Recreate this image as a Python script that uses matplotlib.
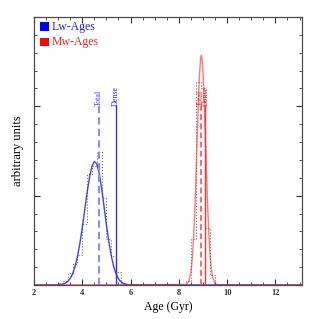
import numpy as np
import matplotlib
matplotlib.use("Agg")
import matplotlib.pyplot as plt
from matplotlib.patches import Rectangle
from matplotlib.ticker import MultipleLocator

plt.rcParams["font.family"] = ["Liberation Serif", "DejaVu Serif"]

# Light-weighted age distribution (blue)
lw_age = [2.0, 2.9, 3.0, 3.1, 3.2, 3.3, 3.4, 3.5, 3.6, 3.7, 3.8, 3.9, 4.0, 4.1, 4.2,
          4.3, 4.4, 4.5, 4.6, 4.7, 4.8, 4.9, 5.0, 5.1, 5.2, 5.3, 5.4, 5.5, 5.6,
          5.7, 5.8, 5.9, 6.0, 13.1]
lw_val = [0.0, 0.001, 0.002, 0.005, 0.010, 0.020, 0.040, 0.073, 0.126, 0.206, 0.319,
          0.466, 0.644, 0.840, 1.036, 1.208, 1.329, 1.383, 1.357, 1.252, 1.084,
          0.882, 0.674, 0.484, 0.327, 0.207, 0.123, 0.069, 0.036, 0.018, 0.008,
          0.004, 0.0015, 0.0]

# Mass-weighted age distribution (red)
mw_age = [2.0, 8.3, 8.4, 8.5, 8.55, 8.6, 8.65, 8.7, 8.75, 8.8, 8.85, 8.9, 8.93,
          8.95, 9.0, 9.05, 9.1, 9.15, 9.2, 9.25, 9.3, 9.35, 9.4, 9.5, 9.6, 13.1]
mw_val = [0.0, 0.006, 0.034, 0.148, 0.277, 0.479, 0.766, 1.136, 1.559, 1.980,
          2.328, 2.534, 2.57, 2.554, 2.383, 2.058, 1.646, 1.218, 0.834, 0.529,
          0.311, 0.169, 0.085, 0.017, 0.0025, 0.0]

# Histograms (dotted)
lw_edges = [3.0, 3.2, 3.4, 3.6, 3.8, 4.0, 4.2, 4.4, 4.6, 4.8, 5.0, 5.2, 5.4, 5.6, 5.8]
lw_hist = [0.02, 0.05, 0.13, 0.24, 0.34, 0.68, 1.24, 1.33, 1.49, 0.97, 0.52, 0.32, 0.15, 0.02]
mw_edges = [8.3, 8.5, 8.7, 8.9, 9.1, 9.3, 9.5]
mw_hist = [0.05, 0.52, 2.27, 2.2, 0.64, 0.11]

# Marker lines
lw_total, lw_dense = 4.69, 5.40
mw_total, mw_dense = 8.90, 9.10
marker_top = 2.0

fig = plt.figure(figsize=(3.19, 3.19), dpi=100)
ax = fig.add_axes([0.1066, 0.1066, 0.84, 0.84])

ax.stairs(lw_hist, lw_edges, color="0.45", lw=0.8, ls=":")
ax.stairs(mw_hist, mw_edges, color="0.45", lw=0.8, ls=":")

ax.plot(lw_age, lw_val, color="#2020ff", lw=1.0, alpha=0.85)
ax.plot(mw_age, mw_val, color="#ff2020", lw=1.0, alpha=0.6)

# Total / Dense markers
ax.plot([lw_total, lw_total], [0, marker_top], color="#8c8cff", lw=1.5, ls=(0, (3.5, 2)))
ax.plot([lw_dense, lw_dense], [0, marker_top], color="#3030ff", lw=1.0)
ax.plot([mw_total, mw_total], [0, marker_top], color="#ff5050", lw=1.2, ls=(0, (3.5, 2)))
ax.plot([mw_dense, mw_dense], [0, marker_top], color="#ff3030", lw=1.0)
for x, lab, c in [(lw_total, "Total", "#4040ff"), (lw_dense, "Dense", "#2020ff"),
                  (mw_total, "Total", "#ff2020"), (mw_dense, "Dense", "#ff2020")]:
    ax.text(x, marker_top, lab, rotation=90, ha="center", va="bottom",
            fontsize=5.8, color=c)

# Legend
ax.add_patch(Rectangle((0.022, 0.948), 0.034, 0.033, transform=ax.transAxes,
                       color="#0000ff", lw=0))
ax.text(0.065, 0.964, "Lw-Ages", transform=ax.transAxes, color="#2020ff",
        fontsize=8.5, ha="left", va="center")
ax.add_patch(Rectangle((0.022, 0.892), 0.034, 0.031, transform=ax.transAxes,
                       color="#ff0000", lw=0))
ax.text(0.065, 0.907, "Mw-Ages", transform=ax.transAxes, color="#ff2020",
        fontsize=8.5, ha="left", va="center")

ax.set_xlim(2, 13.1)
ax.set_ylim(0, 3)
ax.xaxis.set_major_locator(MultipleLocator(2))
ax.xaxis.set_minor_locator(MultipleLocator(0.5))
ax.yaxis.set_major_locator(MultipleLocator(1))
ax.yaxis.set_minor_locator(MultipleLocator(0.2))
ax.tick_params(which="both", direction="in", top=True, right=True,
               labelsize=6, pad=3, colors="0.2")
ax.tick_params(which="major", length=4.5, width=0.8)
ax.tick_params(which="minor", length=2.5, width=0.6)
ax.set_yticklabels([])
for lab in ax.get_xticklabels():
    lab.set_fontweight("bold")
for s in ax.spines.values():
    s.set_color("0.3")
    s.set_linewidth(0.9)

ax.set_xlabel("Age (Gyr)", fontsize=8.5, labelpad=3)
ax.set_ylabel("arbitrary units", fontsize=9, labelpad=4)

plt.savefig("out.png", dpi=100)
